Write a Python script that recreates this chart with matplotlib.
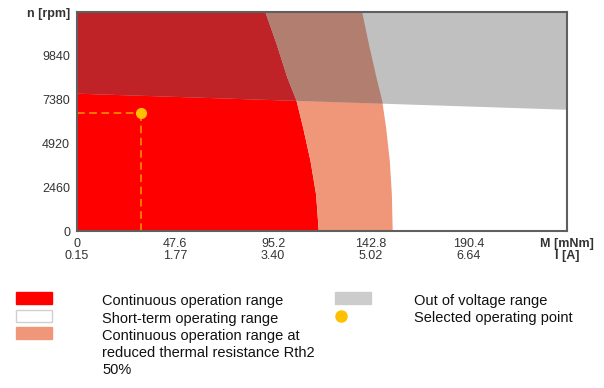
import matplotlib
matplotlib.use("Agg")
import matplotlib.pyplot as plt
from matplotlib.patches import Polygon, Rectangle
from matplotlib.lines import Line2D

plt.rcParams['font.family'] = ['Liberation Sans', 'DejaVu Sans']

# operating range boundaries (torque in mNm at given speed in rpm)
rpm_pts = [0, 2070, 3950, 5830, 7335, 8650, 10530, 12300]
cont_edge = [117.2, 115.9, 113.2, 109.6, 106.4, 101.9, 96.7, 91.3]
rth2_edge = [153.1, 152.7, 151.7, 149.9, 148.0, 145.2, 141.5, 138.3]

# voltage limit line (speed at torque 0 and at torque max)
volt_torque = [0, 238]
volt_rpm = [7713, 6810]

op_torque = 31.2
op_rpm = 6630

torque_ticks = [0, 47.6, 95.2, 142.8, 190.4, 238]
current_labels = ['0.15', '1.77', '3.40', '5.02', '6.64']
rpm_ticks = [0, 2460, 4920, 7380, 9840, 12300]

legend_items = [
    ('Continuous operation range', '#FF0000'),
    ('Short-term operating range', '#FFFFFF'),
    ('Continuous operation range at\nreduced thermal resistance Rth2\n50%', '#F0977A'),
]

W, H = 604, 388
fig = plt.figure(figsize=(W / 100, H / 100), dpi=100)
ax = fig.add_axes([77 / W, 1 - 231 / H, 490 / W, 219 / H])

ax.fill_betweenx(rpm_pts, 0, cont_edge, color='#FF0000', lw=0)
ax.fill_betweenx(rpm_pts, cont_edge, rth2_edge, color='#F0977A', lw=0)

top = rpm_ticks[-1]
gray = Polygon([(volt_torque[0], volt_rpm[0]), (volt_torque[1], volt_rpm[1]),
                (volt_torque[1], top), (volt_torque[0], top)],
               closed=True, facecolor='#C0C0C0', lw=0)
ax.add_patch(gray)
ov1 = ax.fill_betweenx(rpm_pts, 0, cont_edge, color='#BF2327', lw=0)
ov2 = ax.fill_betweenx(rpm_pts, cont_edge, rth2_edge, color='#B27E70', lw=0)
ov1.set_clip_path(gray)
ov2.set_clip_path(gray)

# selected operating point
ax.plot([0, op_torque], [op_rpm, op_rpm], color='#FF9900', lw=1.1, dashes=(5, 3))
ax.plot([op_torque, op_torque], [0, op_rpm], color='#FF9900', lw=1.1, dashes=(5, 3))
ax.plot(op_torque, op_rpm, 'o', color='#FFC000', ms=7, zorder=5)

ax.set_xlim(0, 238)
ax.set_ylim(0, 12300)

xlabels = [f'{t:g}\n{c}' for t, c in zip(torque_ticks[:-1], current_labels)] + ['M [mNm]\nI [A]']
ax.set_xticks(torque_ticks, labels=xlabels)
ax.set_yticks(rpm_ticks, labels=[str(v) for v in rpm_ticks[:-1]] + ['n [rpm]'])
ax.tick_params(length=0, labelsize=9, labelcolor='#333333')
ax.tick_params(axis='x', pad=5)
ax.tick_params(axis='y', pad=5)
for lab in ax.get_xticklabels():
    lab.set_linespacing(1.05)
ax.get_xticklabels()[-1].set_fontweight('bold')
ax.get_yticklabels()[-1].set_fontweight('bold')

for s in ax.spines.values():
    s.set_color('#5f5f5f')
    s.set_linewidth(1.5)


def fy(py):
    return 1 - py / H


# legend
rows = [298, 316, 333]
for (label, col), py in zip(legend_items, rows):
    ec = '#D0D0D0' if col == '#FFFFFF' else col
    fig.add_artist(Rectangle((16 / W, fy(py + 6)), 36 / W, 12 / H, facecolor=col,
                             edgecolor=ec, lw=1, transform=fig.transFigure))
    fig.text(102 / W, fy(py - 4), label, fontsize=10.5, va='top', ha='left',
             linespacing=1.25, color='#111111')

fig.add_artist(Rectangle((335 / W, fy(304)), 36 / W, 12 / H, facecolor='#CCCCCC',
                         edgecolor='#CCCCCC', lw=1, transform=fig.transFigure))
fig.text(414 / W, fy(294), 'Out of voltage range', fontsize=10.5, va='top', color='#111111')
fig.add_artist(Line2D([341 / W], [fy(316)], marker='o', color='#FFC000', ms=8,
                      transform=fig.transFigure))
fig.text(414 / W, fy(311), 'Selected operating point', fontsize=10.5, va='top', color='#111111')

fig.savefig('out.png', dpi=100)
